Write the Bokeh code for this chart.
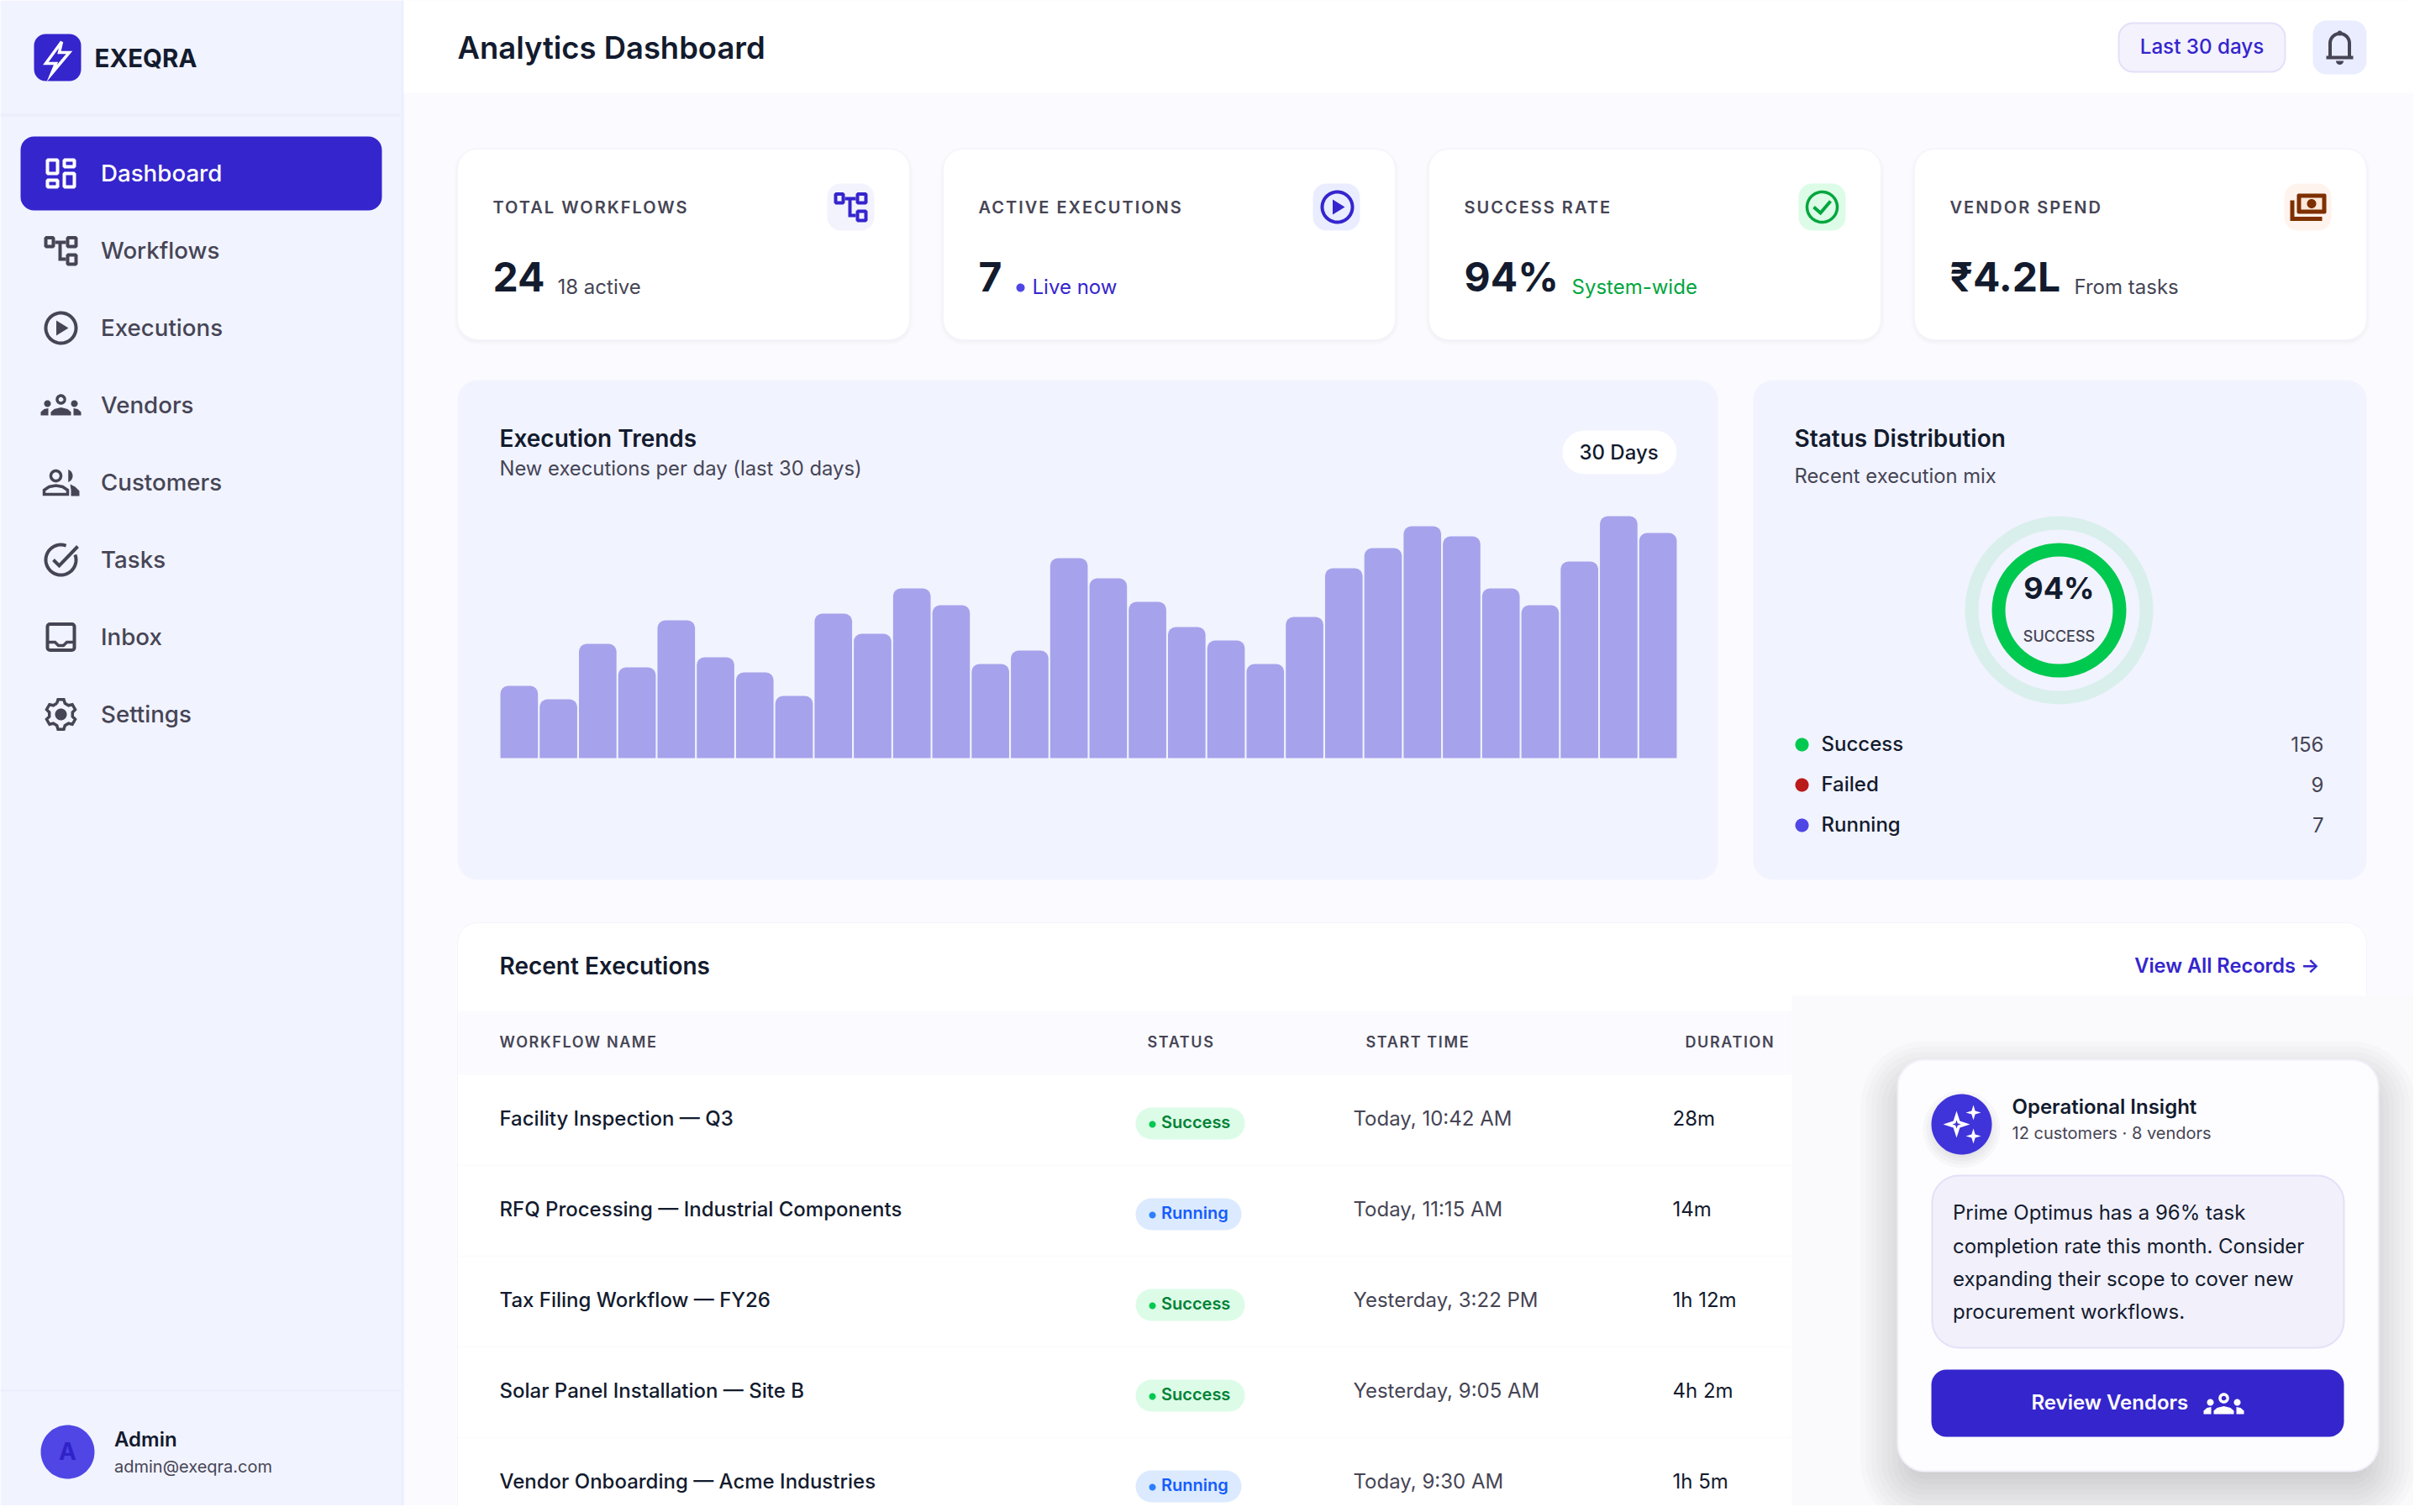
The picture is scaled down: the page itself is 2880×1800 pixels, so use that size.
import numpy as np
from bokeh.core.properties import value
from bokeh.embed import file_html
from bokeh.io import curdoc
from bokeh.models import ColumnDataSource, CustomJS, Range1d
from bokeh.plotting import figure
from bokeh.resources import INLINE

# ---------- data ----------
days = list(range(1, 31))
executions = [43, 35, 68, 54, 82, 60, 51, 37, 86, 74, 101, 91, 56, 64, 119,
              107, 93, 78, 70, 56, 84, 113, 125, 138, 132, 101, 91, 117, 144, 134]
nav_items = ["Dashboard", "Workflows", "Executions", "Vendors", "Customers", "Tasks", "Inbox", "Settings"]
kpi_labels = ["TOTAL WORKFLOWS", "ACTIVE EXECUTIONS", "SUCCESS RATE", "VENDOR SPEND"]
kpi_values = ["24", "7", "94%", "₹4.2L"]
kpi_notes = ["18 active", "Live now", "System-wide", "From tasks"]
status_labels = ["Success", "Failed", "Running"]
status_counts = [156, 9, 7]
table_headers = ["WORKFLOW NAME", "STATUS", "START TIME", "DURATION"]
table_names = ["Facility Inspection — Q3", "RFQ Processing — Industrial Components",
               "Tax Filing Workflow — FY26", "Solar Panel Installation — Site B",
               "Vendor Onboarding — Acme Industries"]
table_status = ["Success", "Running", "Success", "Success", "Running"]
table_starts = ["Today, 10:42 AM", "Today, 11:15 AM", "Yesterday, 3:22 PM", "Yesterday, 9:05 AM", "Today, 9:30 AM"]
table_durations = ["28m", "14m", "1h 12m", "4h 2m", "1h 5m"]
insight_lines = ["Prime Optimus has a 96% task", "completion rate this month. Consider",
                 "expanding their scope to cover new", "procurement workflows."]

# ---------- palette ----------
PRIMARY = "#3525cd"
INDIGO = "#4f46e5"
INK = "#131b2e"
MUTED = "#464555"
SIDE = "#f1f3ff"
PAGE = "#fafaff"
GREEN = "#00c950"
GREEN_D = "#00a63e"
BROWN = "#7e3000"
BAR = "#a6a2eb"
FONT = {"r": ("Inter", "normal"), "m": ("Inter Medium", "normal"),
        "s": ("Inter SemiBold", "normal"), "b": ("Inter", "bold")}
BASELINE_SHIFT = 0.364

W, H = 2872, 1792
p = figure(width=W, height=H, x_range=Range1d(0, W), y_range=Range1d(H, 0),
           output_backend="svg", toolbar_location=None, min_border=0)
p.axis.visible = False
p.grid.visible = False
p.outline_line_color = None
p.background_fill_color = PAGE
p.border_fill_color = PAGE

# scales for the trend chart
BAR_L, BAR_R, BASE = 594, 1996, 902
step = (BAR_R - BAR_L) / len(days)
p.extra_x_ranges["day"] = Range1d(0.5 - BAR_L / step, 0.5 + (W - BAR_L) / step)
p.extra_y_ranges["count"] = Range1d(-(H - BASE) / 2, BASE / 2)


def box(l, t, r, b, fill, radius=0, line=None, lw=0, alpha=1.0):
    p.quad(left=[l], right=[r], top=[t], bottom=[b], fill_color=fill, fill_alpha=alpha,
           line_color=line, line_width=lw, border_radius=int(round(radius)))


def shadow(l, t, r, b, radius, blur, dy, total, n=10, color="#000000"):
    for k in range(n):
        e = blur * (1 - 2 * k / n)
        box(l - e, t - e + dy, r + e, b + e + dy, color, max(radius + e, 0), alpha=total / n)


def T(x, y, s, size, color=INK, w="r", align="left"):
    f, st = FONT[w]
    p.text(x=[x], y=[y - BASELINE_SHIFT * size], text=[s], text_font=value(f), text_font_style=st,
           text_font_size=f"{size}px", text_color=color, text_align=align, text_baseline="alphabetic")


def poly(xs, ys, fill):
    p.patch(list(xs), list(ys), fill_color=fill, line_color=None)


def ln(xs, ys, color, lw, cap="butt"):
    p.line(list(xs), list(ys), line_color=color, line_width=lw, line_cap=cap, line_join="miter")


def arc(cx, cy, r, a0, a1, n=40):
    a = np.radians(np.linspace(a0, a1, n))
    return cx + r * np.cos(a), cy + r * np.sin(a)


def ring(cx, cy, r, color, lw):
    xa, ya = arc(cx, cy, r, 0, 360, 72)
    ln(xa, ya, color, lw)


def dot(cx, cy, r, color):
    xa, ya = arc(cx, cy, r, 0, 360, 72)
    poly(xa, ya, color)


def icon_dashboard(cx, cy, c):
    for a, b, d, e in [(-16, -16, -4, 0), (-16, 8, -4, 16), (4, -16, 16, -8), (4, 0, 16, 16)]:
        box(cx + a, cy + b, cx + d, cy + e, None, line=c, lw=4)


def icon_workflow(cx, cy, c):
    for a, b, d, e in [(-18, -15.5, -9, -5), (8, -15.5, 18, -5), (8, 5, 18, 16)]:
        box(cx + a, cy + b, cx + d, cy + e, None, line=c, lw=4)
    ln([cx - 7, cx + 6], [cy - 10, cy - 10], c, 4)
    ln([cx - 1, cx - 1, cx + 6], [cy - 10, cy + 10, cy + 10], c, 4)


def icon_play(cx, cy, c):
    ring(cx, cy, 18, c, 4)
    poly([cx - 5.5, cx + 9, cx - 5.5], [cy - 9, cy, cy + 9], c)


def icon_group(cx, cy, c):
    ring(cx, cy - 7, 4.5, c, 3.5)
    dot(cx - 16, cy - 2, 4, c)
    dot(cx + 16, cy - 2, 4, c)
    poly([cx - 12, cx - 12, cx - 8, cx, cx + 8, cx + 12, cx + 12],
         [cy + 12, cy + 8, cy + 4.5, cy + 2.5, cy + 4.5, cy + 8, cy + 12], c)
    poly([cx - 24, cx - 24, cx - 20, cx - 15, cx - 15], [cy + 12, cy + 8, cy + 4.5, cy + 3.5, cy + 12], c)
    poly([cx + 24, cx + 24, cx + 20, cx + 15, cx + 15], [cy + 12, cy + 8, cy + 4.5, cy + 3.5, cy + 12], c)


def icon_customers(cx, cy, c):
    ring(cx - 6, cy - 8, 6, c, 3.5)
    xa, ya = arc(cx + 6, cy - 8, 8, -70, 70)
    poly(xa, ya, c)
    ln([cx - 20, cx - 20, cx - 14, cx - 6, cx + 2, cx + 8, cx + 8, cx - 21.7],
       [cy + 14, cy + 9, cy + 5, cy + 3.5, cy + 5, cy + 9, cy + 14, cy + 14], c, 3.5)
    poly([cx + 11, cx + 17, cx + 22, cx + 22, cx + 12, cx + 12],
         [cy + 2, cy + 5, cy + 10, cy + 16, cy + 16, cy + 9], c)


def icon_tasks(cx, cy, c):
    xa, ya = arc(cx, cy, 18, -20, 290, 60)
    ln(xa, ya, c, 4)
    ln([cx - 9, cx - 2, cx + 20], [cy, cy + 7, cy - 16], c, 4)


def icon_inbox(cx, cy, c):
    box(cx - 16, cy - 15.5, cx + 16, cy + 15.5, None, radius=3, line=c, lw=4)
    ln([cx - 16, cx - 7, cx - 3, cx + 3, cx + 7, cx + 16],
       [cy + 6, cy + 6, cy + 10, cy + 10, cy + 6, cy + 6], c, 3.5)


def icon_settings(cx, cy, c):
    xs, ys = [], []
    for k in range(6):
        base = -90 + 60 * k
        for da, r in [(-20, 14), (-11, 18), (11, 18), (20, 14)]:
            a = np.radians(base + da)
            xs.append(cx + r * np.cos(a))
            ys.append(cy + r * np.sin(a))
    xs.append(xs[0])
    ys.append(ys[0])
    ln(xs, ys, c, 3.5)
    dot(cx, cy, 7, c)


def star(cx, cy, R, r, c):
    xs, ys = [], []
    for k in range(8):
        a = np.radians(45 * k)
        q = R if k % 2 == 0 else r
        xs.append(cx + q * np.cos(a))
        ys.append(cy + q * np.sin(a))
    poly(xs, ys, c)


# ---------- page frame ----------
box(0, 0, 480, H, SIDE)
box(477, 0, 480, H, "#eceffd")
box(480, 0, W, 110, "#ffffff")
box(0, 135, 477, 138, "#eceffb")
box(0, 1654, 477, 1656, "#eceffb")

# logo
box(40, 40, 96, 96, PRIMARY, radius=14)
ln([73, 54, 66, 61, 82, 70, 73], [49, 75, 75, 87, 62, 62, 49], "#ffffff", 3.5)
T(112, 79, "EXEQRA", 29.5, INK, "b")

# nav
box(24, 162, 454, 250, PRIMARY, radius=16)
icons = [icon_dashboard, icon_workflow, icon_play, icon_group, icon_customers, icon_tasks, icon_inbox, icon_settings]
for i, (name, ic) in enumerate(zip(nav_items, icons)):
    col = "#ffffff" if i == 0 else MUTED
    ic(72, 206 + 92 * i, col)
    T(119.5, 216 + 92 * i, name, 27.7, col, "m")

# user
dot(80, 1728, 32, INDIGO)
T(80, 1738, "A", 28, "#2f22c8", "b", "center")
T(135.5, 1722, "Admin", 24, INK, "s")
T(135.5, 1753, "admin@exeqra.com", 20, MUTED)

# top bar
T(544, 70, "Analytics Dashboard", 36.4, INK, "s")
box(2521, 27, 2719, 85, "#f3f2fd", radius=17, line="#e3e0f8", lw=2)
T(2620, 64, "Last 30 days", 24.2, PRIMARY, "m", "center")
box(2752, 24, 2816, 88, "#eaedff", radius=16)
bx, by = 2784, 56
xa, ya = arc(bx, by - 5, 11.5, 180, 360)
ln([bx - 11.5] + list(xa) + [bx + 11.5], [by + 11] + list(ya) + [by + 11], MUTED, 4)
ln([bx - 16, bx + 16], [by + 12, by + 12], MUTED, 4)
dot(bx, by - 17, 3, MUTED)
xa, ya = arc(bx, by + 16, 4.5, 0, 180)
poly(xa, ya, MUTED)

# KPI cards
card_x = [544, 1122, 1700, 2278]
icon_bg = ["#f3f3fd", "#eaedff", "#dcfce7", "#fff3ed"]
note_x = [663, 1228, 1870, 2468]
note_col = [MUTED, PRIMARY, GREEN_D, MUTED]
for i, x in enumerate(card_x):
    shadow(x, 177, x + 538, 404, 24, 4, 2, 0.05, n=4)
    box(x, 177, x + 538, 404, "#ffffff", radius=24, line="#f4f4fb", lw=1)
    T(x + 42, 254, kpi_labels[i], 20, MUTED, "s")
    T(x + 42, 346, kpi_values[i], 48, INK, "b")
    T(note_x[i], 350, kpi_notes[i], 24, note_col[i], "r")
    box(x + 440, 218, x + 496, 274, icon_bg[i], radius=16)
dot(1214, 342, 5, INDIGO)
icon_workflow(1012, 246, PRIMARY)
icon_play(1591, 246, PRIMARY)
ring(2168, 246, 18, GREEN_D, 3.5)
ln([2158, 2166, 2178], [246, 253, 239], GREEN_D, 4)
px, py = 2746, 246
box(px - 13, py - 16, px + 22, py + 8, BROWN, radius=2)
box(px - 8, py - 11, px + 17, py + 3, "#ffe9dc")
dot(px + 4.5, py - 4, 5.5, BROWN)
ln([px - 18.5, px - 18.5, px + 17], [py - 8, py + 14, py + 14], BROWN, 5)

# chart panels
box(544, 452, 2044, 1047, SIDE, radius=24)
box(2086, 452, 2816, 1047, SIDE, radius=24)
T(594, 532, "Execution Trends", 28, INK, "s")
T(594, 566, "New executions per day (last 30 days)", 23.8, MUTED)
box(1859, 512, 1995, 564, "#ffffff", radius=26)
T(1926, 547, "30 Days", 24, INK, "m", "center")

bars = ColumnDataSource(data=dict(day=days, count=executions))
p.vbar(x="day", top="count", bottom=0, width=0.955, source=bars, x_range_name="day", y_range_name="count",
       fill_color=BAR, line_color=None, border_radius=(9, 9, 0, 0))

T(2135, 532, "Status Distribution", 28, INK, "s")
T(2135, 575, "Recent execution mix", 23.8, MUTED)
p.annulus(x=[2450], y=[726], inner_radius=96, outer_radius=112, fill_color="#d9efec", line_color=None)
p.annulus(x=[2450], y=[726], inner_radius=64, outer_radius=80, fill_color=GREEN, line_color=None)
T(2450, 713, "94%", 36, INK, "b", "center")
T(2450, 764, "SUCCESS", 18, MUTED, "m", "center")
for i, (lab, cnt, col) in enumerate(zip(status_labels, status_counts, [GREEN, "#ba1a1a", INDIGO])):
    y = 886 + 48 * i
    dot(2144, y, 8, col)
    T(2167, y + 8, lab, 24, INK, "m")
    T(2765, y + 8, str(cnt), 24, MUTED, "r", "right")

# table
box(544, 1098, 2816, 1900, "#ffffff", radius=24, line="#f4f4fb", lw=1)
T(594, 1160, "Recent Executions", 28, INK, "s")
T(2760, 1158, "View All Records →", 23.6, PRIMARY, "s", "right")
box(545, 1203, 2815, 1279, PAGE)
for h, x in zip(table_headers, [594, 1365, 1625, 2005]):
    T(x, 1247, h, 18, MUTED, "s")
pill = {"Success": ("#dcfce7", "#008236", GREEN, 130), "Running": ("#dbeafe", "#155dfc", "#2b7fff", 126)}
for i in range(5):
    y = 1340 + 108 * i
    if i < 4:
        box(545, y + 46, 2815, y + 48, "#fcfcfe")
    T(594, y, table_names[i], 24, INK, "m")
    bg, fg, dc, wd = pill[table_status[i]]
    box(1351, y - 22, 1351 + wd, y + 16, bg, radius=19)
    dot(1371, y - 2, 4, dc)
    T(1381.5, y + 3, table_status[i], 20, fg, "s")
    T(1610, y, table_starts[i], 24, MUTED)
    T(1990, y, table_durations[i], 24, INK)

# floating insight card
box(2132, 1185, W, H, "#fafafc")
shadow(2258, 1261, 2830, 1751, 32, 44, 22, 0.22, n=14)
box(2258, 1261, 2830, 1751, "#fdfcff", radius=32, line="#f1eff9", lw=2)
shadow(2298, 1302, 2370, 1374, 36, 10, 6, 0.12, n=5)
dot(2334, 1338, 36, "#3f34d9")
star(2328, 1338, 16, 5.5, "#ffffff")
star(2328, 1338, 5, 1.8, "#3f34d9")
star(2348, 1324, 9, 3, "#ffffff")
star(2348, 1352, 9, 3, "#ffffff")
T(2394, 1326, "Operational Insight", 24, INK, "s")
T(2394, 1356, "12 customers · 8 vendors", 20, MUTED)
box(2299, 1399, 2789, 1604, "#f1f0fb", radius=32, line="#e3e0f8", lw=2)
for i, line_text in enumerate(insight_lines):
    T(2323.5, 1452 + 39.4 * i, line_text, 24, INK)
box(2298, 1630, 2789, 1710, PRIMARY, radius=18)
T(2417, 1678, "Review Vendors", 24, "#ffffff", "s")
icon_group(2646, 1671, "#ffffff")

# tracked small caps labels (SVG text keeps its string; only its spacing changes)
doc = curdoc()
doc.add_root(p)
doc.js_on_event("document_ready", CustomJS(args=dict(wide=kpi_labels, narrow=table_headers), code="""
    function walk(root, out) {
        root.querySelectorAll('*').forEach((e) => {
            if (e.tagName.toLowerCase() === 'text') out.push(e);
            if (e.shadowRoot) walk(e.shadowRoot, out);
        });
        return out;
    }
    function apply() {
        for (const e of walk(document, [])) {
            const s = e.textContent.trim();
            if (wide.includes(s)) e.setAttribute('letter-spacing', '2');
            if (narrow.includes(s)) e.setAttribute('letter-spacing', '1.6');
        }
    }
    apply();
    for (const t of [50, 200, 600, 1500, 3000]) setTimeout(apply, t);
"""))

open("out.html", "w").write(file_html(p, INLINE))
